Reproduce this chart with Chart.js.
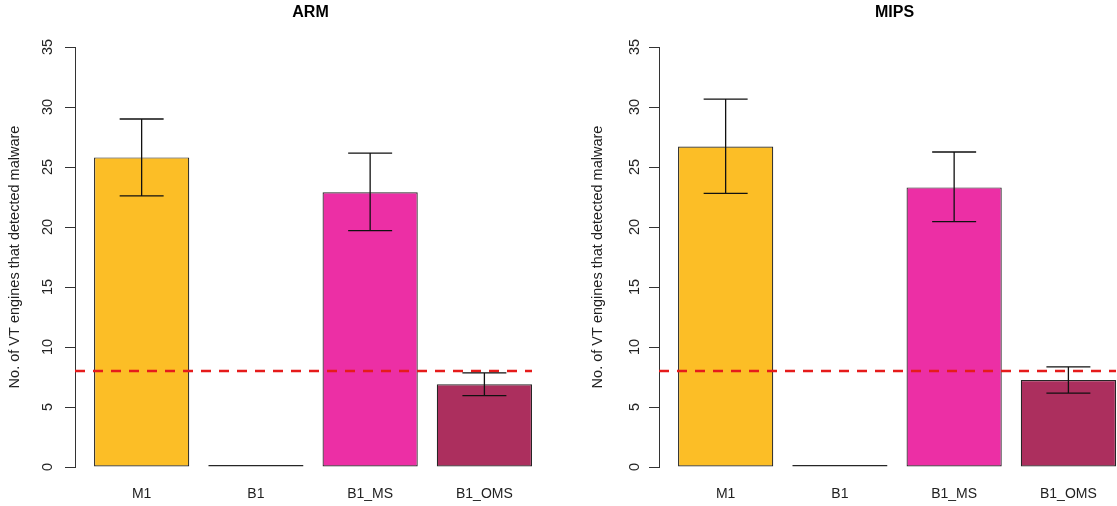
<!DOCTYPE html>
<html>
<head>
<meta charset="utf-8">
<script src="https://cdn.jsdelivr.net/npm/chart.js@4/dist/chart.umd.min.js"></script>
<style>
  html, body { margin: 0; padding: 0; background: #fff; }
  body { position: relative; width: 1117px; height: 506px; overflow: hidden; }
  canvas { position: absolute; top: 0; }
  #arm { left: 0; }
  #mips { left: 559px; }
</style>
</head>
<body>
<canvas id="arm" width="621" height="506"></canvas>
<canvas id="mips" width="671" height="506"></canvas>
<script>
// Detection counts per build variant (mean with error-bar limits)
const categories = ['M1', 'B1', 'B1_MS', 'B1_OMS'];
const barColors = ['#FCBE26', '#2a2a2a', '#EC2FA5', '#AC2F5E'];

const armMeans = [25.8, 0, 22.9, 6.9];
const armLower = [22.6, null, 19.7, 5.95];
const armUpper = [29.0, null, 26.15, 7.85];

const mipsMeans = [26.7, 0, 23.3, 7.25];
const mipsLower = [22.8, null, 20.45, 6.15];
const mipsUpper = [30.65, null, 26.25, 8.35];

const threshold = 8;
const yTicks = [0, 5, 10, 15, 20, 25, 30, 35];
const yTitle = 'No. of VT engines that detected malware';

const FONT = "'Liberation Sans', Arial, Helvetica, sans-serif";
const INK = '#222222';

// barplot-style positions: unit-wide bars separated by 0.2
const barCenter = i => 0.7 + 1.2 * i;

function errorBarPlugin(lower, upper) {
  return {
    id: 'errorBars',
    afterDatasetsDraw(chart) {
      const meta = chart.getDatasetMeta(0);
      const y = chart.scales.y;
      const ctx = chart.ctx;
      ctx.save();
      ctx.strokeStyle = '#111';
      ctx.lineWidth = 1.3;
      lower.forEach((lo, i) => {
        const hi = upper[i];
        if (lo == null || hi == null) return;
        const bar = meta.data[i];
        const half = bar.width * 0.231;
        const yl = y.getPixelForValue(lo);
        const yh = y.getPixelForValue(hi);
        ctx.beginPath();
        ctx.moveTo(bar.x, yl); ctx.lineTo(bar.x, yh);
        ctx.moveTo(bar.x - half, yh); ctx.lineTo(bar.x + half, yh);
        ctx.moveTo(bar.x - half, yl); ctx.lineTo(bar.x + half, yl);
        ctx.stroke();
      });
      ctx.restore();
    }
  };
}

function makePanel(id, name, means, lower, upper, g) {
  return new Chart(document.getElementById(id), {
    type: 'bar',
    data: {
      datasets: [
        {
          type: 'bar',
          data: categories.map((c, i) => ({ x: barCenter(i), y: means[i] })),
          backgroundColor: barColors,
          borderColor: '#262626',
          borderWidth: 1.2,
          borderSkipped: false,
          minBarLength: 2,
          categoryPercentage: 1,
          barPercentage: 1 / 1.2,
          order: 1
        },
        {
          type: 'line',
          data: [{ x: 0, y: threshold }, { x: 4.8, y: threshold }],
          borderColor: '#E51B1B',
          borderWidth: 2.7,
          borderDash: [10, 8],
          pointRadius: 0,
          fill: false,
          order: 0
        }
      ]
    },
    options: {
      responsive: false,
      animation: false,
      events: [],
      layout: { padding: 0 },
      plugins: {
        legend: { display: false },
        tooltip: { enabled: false },
        title: {
          display: true,
          text: name,
          color: '#000',
          fullSize: true,
          font: { family: FONT, size: 16, weight: 'bold' },
          padding: { top: 2.9, bottom: 24.9 }
        }
      },
      scales: {
        x: {
          type: 'linear',
          min: 0,
          max: 4.8,
          bounds: 'data',
          offset: false,
          grid: { display: false, drawTicks: false },
          border: { display: false },
          afterBuildTicks: s => { s.ticks = categories.map((c, i) => ({ value: barCenter(i) })); },
          afterFit: s => { s.height = 39; },
          ticks: {
            padding: 18.3,
            color: INK,
            font: { family: FONT, size: 14 },
            maxRotation: 0,
            autoSkip: false,
            callback: v => categories[Math.round((v - 0.7) / 1.2)]
          }
        },
        y: {
          min: 0,
          max: 35,
          bounds: 'data',
          grid: { display: true, drawOnChartArea: false, drawTicks: true, tickLength: 10, color: '#333' },
          border: { display: true, color: '#333', width: 1 },
          afterBuildTicks: s => { s.ticks = yTicks.map(v => ({ value: v })); },
          afterFit: s => { s.width = g.axisWidth; },
          ticks: {
            color: INK,
            font: { family: FONT, size: 14.5 },
            minRotation: 90,
            maxRotation: 90,
            crossAlign: 'center',
            padding: g.tickPad
          },
          title: {
            display: true,
            text: yTitle,
            color: INK,
            font: { family: FONT, size: 14.5 },
            padding: { top: g.titlePad, bottom: 0 }
          }
        },
        // empty right-hand margin so the panel title centres on the whole canvas
        margin: {
          type: 'linear',
          position: 'right',
          display: true,
          grid: { display: false, drawTicks: false },
          border: { display: false },
          ticks: { display: false },
          afterFit: s => { s.width = g.padRight; }
        }
      }
    },
    plugins: [errorBarPlugin(lower, upper)]
  });
}

makePanel('arm', 'ARM', armMeans, armLower, armUpper,
  { padRight: 89, axisWidth: 75, tickPad: 8.6, titlePad: 6.3 });
makePanel('mips', 'MIPS', mipsMeans, mipsLower, mipsUpper,
  { padRight: 114, axisWidth: 100, tickPad: 6.2, titlePad: 30.3 });
</script>
</body>
</html>
